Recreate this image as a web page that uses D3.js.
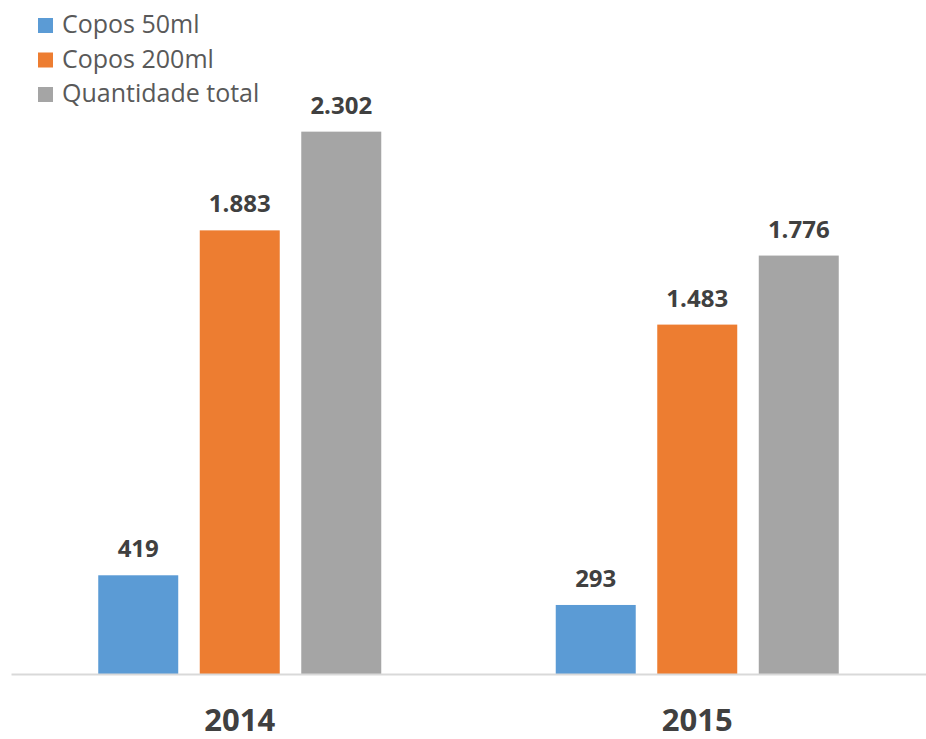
<!DOCTYPE html>
<html>
<head>
<meta charset="utf-8">
<script src="https://cdn.jsdelivr.net/npm/d3@7"></script>
<style>
  html, body { margin: 0; padding: 0; background: #ffffff; }
  svg { display: block; }
</style>
</head>
<body>
<svg id="chart" width="926" height="739"></svg>
<script>
// Cup sales by year
const years = ["2014", "2015"];
const seriesNames = ["Copos 50ml", "Copos 200ml", "Quantidade total"];
const copos50 = [419, 293];
const copos200 = [1883, 1483];
const total = [2302, 1776];
const seriesColors = ["#5B9BD5", "#ED7D31", "#A5A5A5"];

const seriesValues = [copos50, copos200, total];
const rows = years.map((yr, i) => ({
  year: yr,
  values: seriesNames.map((s, k) => ({ key: s, value: seriesValues[k][i] }))
}));

const svg = d3.select("#chart");
const plot = { left: 11, right: 926, top: 85, bottom: 674 };

const x0 = d3.scaleBand()
  .domain(years)
  .range([plot.left, plot.right])
  .paddingInner(0.3814)
  .paddingOuter(0.1907);

const x1 = d3.scaleBand()
  .domain(seriesNames)
  .range([0, x0.bandwidth()])
  .paddingInner(0.212)
  .paddingOuter(0);

const y = d3.scaleLinear()
  .domain([0, 2500])
  .range([plot.bottom, plot.top]);

const color = d3.scaleOrdinal().domain(seriesNames).range(seriesColors);
const fmt = v => d3.format(",")(v).replace(/,/g, ".");

// Bars
const groups = svg.append("g").selectAll("g")
  .data(rows)
  .join("g")
  .attr("transform", d => `translate(${x0(d.year)},0)`);

groups.selectAll("rect")
  .data(d => d.values)
  .join("rect")
  .attr("x", d => x1(d.key))
  .attr("y", d => y(d.value))
  .attr("width", x1.bandwidth())
  .attr("height", d => y(0) - y(d.value))
  .attr("fill", d => color(d.key));

// Value labels
groups.selectAll("text")
  .data(d => d.values)
  .join("text")
  .attr("x", d => x1(d.key) + x1.bandwidth() / 2)
  .attr("y", d => y(d.value) - 18)
  .attr("text-anchor", "middle")
  .attr("font-family", "'Open Sans', sans-serif")
  .attr("font-weight", "bold")
  .attr("font-size", 24)
  .attr("fill", "#404040")
  .text(d => fmt(d.value));

// Category axis
const xAxis = svg.append("g")
  .attr("transform", `translate(0,${plot.bottom})`)
  .call(d3.axisBottom(x0).tickSize(0).tickPadding(0).tickSizeOuter(0));
xAxis.select(".domain")
  .attr("stroke", "#D9D9D9")
  .attr("stroke-width", 2);
xAxis.selectAll(".tick text")
  .attr("dy", null)
  .attr("y", 57)
  .attr("font-family", "'Open Sans', sans-serif")
  .attr("font-weight", "bold")
  .attr("font-size", 31)
  .attr("fill", "#404040");

// Legend
const legend = svg.append("g").selectAll("g")
  .data(seriesNames)
  .join("g")
  .attr("transform", (d, i) => `translate(38,${18 + i * 34.5})`);
legend.append("rect")
  .attr("width", 15)
  .attr("height", 15)
  .attr("fill", d => color(d));
legend.append("text")
  .attr("x", 24)
  .attr("y", 15)
  .attr("font-family", "'Open Sans', sans-serif")
  .attr("font-size", 25)
  .attr("fill", "#595959")
  .text(d => d);
</script>
</body>
</html>
